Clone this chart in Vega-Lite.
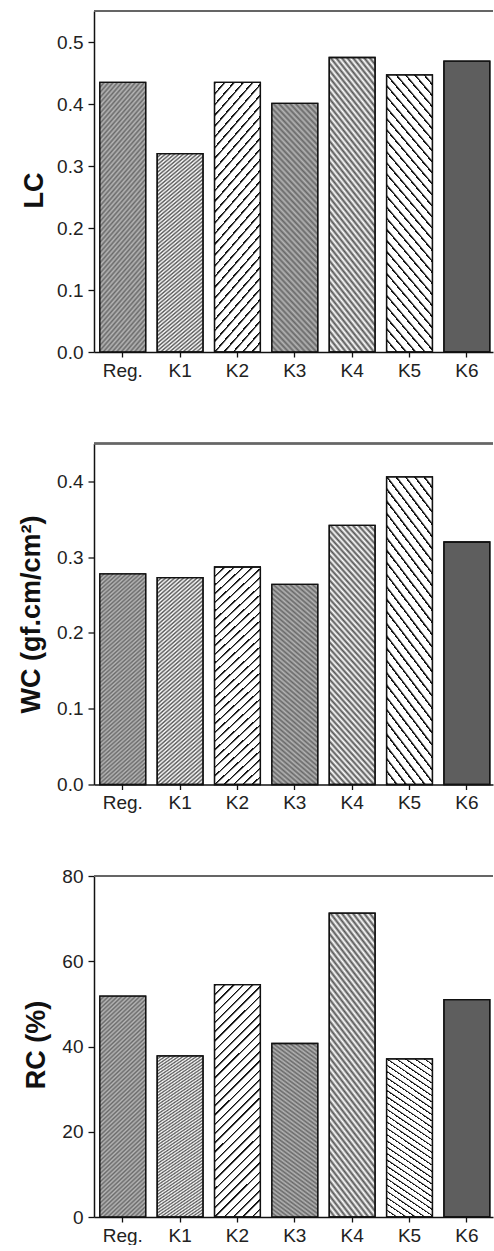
{
"$schema": "https://vega.github.io/schema/vega-lite/v6.json",
"background": "white",
"padding": {"left": 17, "top": 10, "right": 0, "bottom": 0},
"params": [
{"name":"gK1","value":{"gradient":"linear","x1":0,"y1":0,"x2":0.2259,"y2":1.1519,"stops":[
{"offset":0,"color":"#555"},{"offset":0.008,"color":"#fff"},{"offset":0.016,"color":"#555"},{"offset":0.024,"color":"#fff"},{"offset":0.032,"color":"#555"},{"offset":0.04,"color":"#fff"},{"offset":0.048,"color":"#555"},{"offset":0.056,"color":"#fff"},{"offset":0.064,"color":"#555"},{"offset":0.072,"color":"#fff"},
{"offset":0.08,"color":"#555"},{"offset":0.088,"color":"#fff"},{"offset":0.096,"color":"#555"},{"offset":0.104,"color":"#fff"},{"offset":0.112,"color":"#555"},{"offset":0.12,"color":"#fff"},{"offset":0.128,"color":"#555"},{"offset":0.136,"color":"#fff"},{"offset":0.144,"color":"#555"},{"offset":0.152,"color":"#fff"},
{"offset":0.16,"color":"#555"},{"offset":0.168,"color":"#fff"},{"offset":0.176,"color":"#555"},{"offset":0.184,"color":"#fff"},{"offset":0.192,"color":"#555"},{"offset":0.2,"color":"#fff"},{"offset":0.208,"color":"#555"},{"offset":0.216,"color":"#fff"},{"offset":0.224,"color":"#555"},{"offset":0.232,"color":"#fff"},
{"offset":0.24,"color":"#555"},{"offset":0.248,"color":"#fff"},{"offset":0.256,"color":"#555"},{"offset":0.264,"color":"#fff"},{"offset":0.272,"color":"#555"},{"offset":0.28,"color":"#fff"},{"offset":0.288,"color":"#555"},{"offset":0.296,"color":"#fff"},{"offset":0.304,"color":"#555"},{"offset":0.312,"color":"#fff"},
{"offset":0.32,"color":"#555"},{"offset":0.328,"color":"#fff"},{"offset":0.336,"color":"#555"},{"offset":0.344,"color":"#fff"},{"offset":0.352,"color":"#555"},{"offset":0.36,"color":"#fff"},{"offset":0.368,"color":"#555"},{"offset":0.376,"color":"#fff"},{"offset":0.384,"color":"#555"},{"offset":0.392,"color":"#fff"},
{"offset":0.4,"color":"#555"},{"offset":0.408,"color":"#fff"},{"offset":0.416,"color":"#555"},{"offset":0.424,"color":"#fff"},{"offset":0.432,"color":"#555"},{"offset":0.44,"color":"#fff"},{"offset":0.448,"color":"#555"},{"offset":0.456,"color":"#fff"},{"offset":0.464,"color":"#555"},{"offset":0.472,"color":"#fff"},
{"offset":0.48,"color":"#555"},{"offset":0.488,"color":"#fff"},{"offset":0.496,"color":"#555"},{"offset":0.504,"color":"#fff"},{"offset":0.512,"color":"#555"},{"offset":0.52,"color":"#fff"},{"offset":0.528,"color":"#555"},{"offset":0.536,"color":"#fff"},{"offset":0.544,"color":"#555"},{"offset":0.552,"color":"#fff"},
{"offset":0.56,"color":"#555"},{"offset":0.568,"color":"#fff"},{"offset":0.576,"color":"#555"},{"offset":0.584,"color":"#fff"},{"offset":0.592,"color":"#555"},{"offset":0.6,"color":"#fff"},{"offset":0.608,"color":"#555"},{"offset":0.616,"color":"#fff"},{"offset":0.624,"color":"#555"},{"offset":0.632,"color":"#fff"},
{"offset":0.64,"color":"#555"},{"offset":0.648,"color":"#fff"},{"offset":0.656,"color":"#555"},{"offset":0.664,"color":"#fff"},{"offset":0.672,"color":"#555"},{"offset":0.68,"color":"#fff"},{"offset":0.688,"color":"#555"},{"offset":0.696,"color":"#fff"},{"offset":0.704,"color":"#555"},{"offset":0.712,"color":"#fff"},
{"offset":0.72,"color":"#555"},{"offset":0.728,"color":"#fff"},{"offset":0.736,"color":"#555"},{"offset":0.744,"color":"#fff"},{"offset":0.752,"color":"#555"},{"offset":0.76,"color":"#fff"},{"offset":0.768,"color":"#555"},{"offset":0.776,"color":"#fff"},{"offset":0.784,"color":"#555"},{"offset":0.792,"color":"#fff"},
{"offset":0.8,"color":"#555"},{"offset":0.808,"color":"#fff"},{"offset":0.816,"color":"#555"},{"offset":0.824,"color":"#fff"},{"offset":0.832,"color":"#555"},{"offset":0.84,"color":"#fff"},{"offset":0.848,"color":"#555"},{"offset":0.856,"color":"#fff"},{"offset":0.864,"color":"#555"},{"offset":0.872,"color":"#fff"},
{"offset":0.88,"color":"#555"},{"offset":0.888,"color":"#fff"},{"offset":0.896,"color":"#555"},{"offset":0.904,"color":"#fff"},{"offset":0.912,"color":"#555"},{"offset":0.92,"color":"#fff"},{"offset":0.928,"color":"#555"},{"offset":0.936,"color":"#fff"},{"offset":0.944,"color":"#555"},{"offset":0.952,"color":"#fff"},
{"offset":0.96,"color":"#555"},{"offset":0.968,"color":"#fff"},{"offset":0.976,"color":"#555"},{"offset":0.984,"color":"#fff"},{"offset":0.992,"color":"#555"},{"offset":1,"color":"#fff"}
]}},
{"name":"gK2","value":{"gradient":"linear","x1":0,"y1":0,"x2":0.2259,"y2":1.1519,"stops":[
{"offset":0,"color":"#111"},{"offset":0.004,"color":"#111"},{"offset":0.01,"color":"#fff"},{"offset":0.0333,"color":"#fff"},{"offset":0.0333,"color":"#111"},{"offset":0.0373,"color":"#111"},{"offset":0.0433,"color":"#fff"},{"offset":0.0667,"color":"#fff"},{"offset":0.0667,"color":"#111"},{"offset":0.0707,"color":"#111"},{"offset":0.0767,"color":"#fff"},{"offset":0.1,"color":"#fff"},
{"offset":0.1,"color":"#111"},{"offset":0.104,"color":"#111"},{"offset":0.11,"color":"#fff"},{"offset":0.1333,"color":"#fff"},{"offset":0.1333,"color":"#111"},{"offset":0.1373,"color":"#111"},{"offset":0.1433,"color":"#fff"},{"offset":0.1667,"color":"#fff"},{"offset":0.1667,"color":"#111"},{"offset":0.1707,"color":"#111"},{"offset":0.1767,"color":"#fff"},{"offset":0.2,"color":"#fff"},
{"offset":0.2,"color":"#111"},{"offset":0.204,"color":"#111"},{"offset":0.21,"color":"#fff"},{"offset":0.2333,"color":"#fff"},{"offset":0.2333,"color":"#111"},{"offset":0.2373,"color":"#111"},{"offset":0.2433,"color":"#fff"},{"offset":0.2667,"color":"#fff"},{"offset":0.2667,"color":"#111"},{"offset":0.2707,"color":"#111"},{"offset":0.2767,"color":"#fff"},{"offset":0.3,"color":"#fff"},
{"offset":0.3,"color":"#111"},{"offset":0.304,"color":"#111"},{"offset":0.31,"color":"#fff"},{"offset":0.3333,"color":"#fff"},{"offset":0.3333,"color":"#111"},{"offset":0.3373,"color":"#111"},{"offset":0.3433,"color":"#fff"},{"offset":0.3667,"color":"#fff"},{"offset":0.3667,"color":"#111"},{"offset":0.3707,"color":"#111"},{"offset":0.3767,"color":"#fff"},{"offset":0.4,"color":"#fff"},
{"offset":0.4,"color":"#111"},{"offset":0.404,"color":"#111"},{"offset":0.41,"color":"#fff"},{"offset":0.4333,"color":"#fff"},{"offset":0.4333,"color":"#111"},{"offset":0.4373,"color":"#111"},{"offset":0.4433,"color":"#fff"},{"offset":0.4667,"color":"#fff"},{"offset":0.4667,"color":"#111"},{"offset":0.4707,"color":"#111"},{"offset":0.4767,"color":"#fff"},{"offset":0.5,"color":"#fff"},
{"offset":0.5,"color":"#111"},{"offset":0.504,"color":"#111"},{"offset":0.51,"color":"#fff"},{"offset":0.5333,"color":"#fff"},{"offset":0.5333,"color":"#111"},{"offset":0.5373,"color":"#111"},{"offset":0.5433,"color":"#fff"},{"offset":0.5667,"color":"#fff"},{"offset":0.5667,"color":"#111"},{"offset":0.5707,"color":"#111"},{"offset":0.5767,"color":"#fff"},{"offset":0.6,"color":"#fff"},
{"offset":0.6,"color":"#111"},{"offset":0.604,"color":"#111"},{"offset":0.61,"color":"#fff"},{"offset":0.6333,"color":"#fff"},{"offset":0.6333,"color":"#111"},{"offset":0.6373,"color":"#111"},{"offset":0.6433,"color":"#fff"},{"offset":0.6667,"color":"#fff"},{"offset":0.6667,"color":"#111"},{"offset":0.6707,"color":"#111"},{"offset":0.6767,"color":"#fff"},{"offset":0.7,"color":"#fff"},
{"offset":0.7,"color":"#111"},{"offset":0.704,"color":"#111"},{"offset":0.71,"color":"#fff"},{"offset":0.7333,"color":"#fff"},{"offset":0.7333,"color":"#111"},{"offset":0.7373,"color":"#111"},{"offset":0.7433,"color":"#fff"},{"offset":0.7667,"color":"#fff"},{"offset":0.7667,"color":"#111"},{"offset":0.7707,"color":"#111"},{"offset":0.7767,"color":"#fff"},{"offset":0.8,"color":"#fff"},
{"offset":0.8,"color":"#111"},{"offset":0.804,"color":"#111"},{"offset":0.81,"color":"#fff"},{"offset":0.8333,"color":"#fff"},{"offset":0.8333,"color":"#111"},{"offset":0.8373,"color":"#111"},{"offset":0.8433,"color":"#fff"},{"offset":0.8667,"color":"#fff"},{"offset":0.8667,"color":"#111"},{"offset":0.8707,"color":"#111"},{"offset":0.8767,"color":"#fff"},{"offset":0.9,"color":"#fff"},
{"offset":0.9,"color":"#111"},{"offset":0.904,"color":"#111"},{"offset":0.91,"color":"#fff"},{"offset":0.9333,"color":"#fff"},{"offset":0.9333,"color":"#111"},{"offset":0.9373,"color":"#111"},{"offset":0.9433,"color":"#fff"},{"offset":0.9667,"color":"#fff"},{"offset":0.9667,"color":"#111"},{"offset":0.9707,"color":"#111"},{"offset":0.9767,"color":"#fff"},{"offset":1,"color":"#fff"}
]}},
{"name":"gK4","value":{"gradient":"linear","x1":0,"y1":1,"x2":0.2259,"y2":-0.1519,"stops":[
{"offset":0,"color":"#555"},{"offset":0.01,"color":"#fff"},{"offset":0.02,"color":"#555"},{"offset":0.03,"color":"#fff"},{"offset":0.04,"color":"#555"},{"offset":0.05,"color":"#fff"},{"offset":0.06,"color":"#555"},{"offset":0.07,"color":"#fff"},{"offset":0.08,"color":"#555"},{"offset":0.09,"color":"#fff"},
{"offset":0.1,"color":"#555"},{"offset":0.11,"color":"#fff"},{"offset":0.12,"color":"#555"},{"offset":0.13,"color":"#fff"},{"offset":0.14,"color":"#555"},{"offset":0.15,"color":"#fff"},{"offset":0.16,"color":"#555"},{"offset":0.17,"color":"#fff"},{"offset":0.18,"color":"#555"},{"offset":0.19,"color":"#fff"},
{"offset":0.2,"color":"#555"},{"offset":0.21,"color":"#fff"},{"offset":0.22,"color":"#555"},{"offset":0.23,"color":"#fff"},{"offset":0.24,"color":"#555"},{"offset":0.25,"color":"#fff"},{"offset":0.26,"color":"#555"},{"offset":0.27,"color":"#fff"},{"offset":0.28,"color":"#555"},{"offset":0.29,"color":"#fff"},
{"offset":0.3,"color":"#555"},{"offset":0.31,"color":"#fff"},{"offset":0.32,"color":"#555"},{"offset":0.33,"color":"#fff"},{"offset":0.34,"color":"#555"},{"offset":0.35,"color":"#fff"},{"offset":0.36,"color":"#555"},{"offset":0.37,"color":"#fff"},{"offset":0.38,"color":"#555"},{"offset":0.39,"color":"#fff"},
{"offset":0.4,"color":"#555"},{"offset":0.41,"color":"#fff"},{"offset":0.42,"color":"#555"},{"offset":0.43,"color":"#fff"},{"offset":0.44,"color":"#555"},{"offset":0.45,"color":"#fff"},{"offset":0.46,"color":"#555"},{"offset":0.47,"color":"#fff"},{"offset":0.48,"color":"#555"},{"offset":0.49,"color":"#fff"},
{"offset":0.5,"color":"#555"},{"offset":0.51,"color":"#fff"},{"offset":0.52,"color":"#555"},{"offset":0.53,"color":"#fff"},{"offset":0.54,"color":"#555"},{"offset":0.55,"color":"#fff"},{"offset":0.56,"color":"#555"},{"offset":0.57,"color":"#fff"},{"offset":0.58,"color":"#555"},{"offset":0.59,"color":"#fff"},
{"offset":0.6,"color":"#555"},{"offset":0.61,"color":"#fff"},{"offset":0.62,"color":"#555"},{"offset":0.63,"color":"#fff"},{"offset":0.64,"color":"#555"},{"offset":0.65,"color":"#fff"},{"offset":0.66,"color":"#555"},{"offset":0.67,"color":"#fff"},{"offset":0.68,"color":"#555"},{"offset":0.69,"color":"#fff"},
{"offset":0.7,"color":"#555"},{"offset":0.71,"color":"#fff"},{"offset":0.72,"color":"#555"},{"offset":0.73,"color":"#fff"},{"offset":0.74,"color":"#555"},{"offset":0.75,"color":"#fff"},{"offset":0.76,"color":"#555"},{"offset":0.77,"color":"#fff"},{"offset":0.78,"color":"#555"},{"offset":0.79,"color":"#fff"},
{"offset":0.8,"color":"#555"},{"offset":0.81,"color":"#fff"},{"offset":0.82,"color":"#555"},{"offset":0.83,"color":"#fff"},{"offset":0.84,"color":"#555"},{"offset":0.85,"color":"#fff"},{"offset":0.86,"color":"#555"},{"offset":0.87,"color":"#fff"},{"offset":0.88,"color":"#555"},{"offset":0.89,"color":"#fff"},
{"offset":0.9,"color":"#555"},{"offset":0.91,"color":"#fff"},{"offset":0.92,"color":"#555"},{"offset":0.93,"color":"#fff"},{"offset":0.94,"color":"#555"},{"offset":0.95,"color":"#fff"},{"offset":0.96,"color":"#555"},{"offset":0.97,"color":"#fff"},{"offset":0.98,"color":"#555"},{"offset":0.99,"color":"#fff"},
{"offset":1,"color":"#555"}
]}},
{"name":"gK5","value":{"gradient":"linear","x1":0,"y1":1,"x2":0.2259,"y2":-0.1519,"stops":[
{"offset":0,"color":"#111"},{"offset":0.004,"color":"#111"},{"offset":0.01,"color":"#fff"},{"offset":0.0333,"color":"#fff"},{"offset":0.0333,"color":"#111"},{"offset":0.0373,"color":"#111"},{"offset":0.0433,"color":"#fff"},{"offset":0.0667,"color":"#fff"},{"offset":0.0667,"color":"#111"},{"offset":0.0707,"color":"#111"},{"offset":0.0767,"color":"#fff"},{"offset":0.1,"color":"#fff"},
{"offset":0.1,"color":"#111"},{"offset":0.104,"color":"#111"},{"offset":0.11,"color":"#fff"},{"offset":0.1333,"color":"#fff"},{"offset":0.1333,"color":"#111"},{"offset":0.1373,"color":"#111"},{"offset":0.1433,"color":"#fff"},{"offset":0.1667,"color":"#fff"},{"offset":0.1667,"color":"#111"},{"offset":0.1707,"color":"#111"},{"offset":0.1767,"color":"#fff"},{"offset":0.2,"color":"#fff"},
{"offset":0.2,"color":"#111"},{"offset":0.204,"color":"#111"},{"offset":0.21,"color":"#fff"},{"offset":0.2333,"color":"#fff"},{"offset":0.2333,"color":"#111"},{"offset":0.2373,"color":"#111"},{"offset":0.2433,"color":"#fff"},{"offset":0.2667,"color":"#fff"},{"offset":0.2667,"color":"#111"},{"offset":0.2707,"color":"#111"},{"offset":0.2767,"color":"#fff"},{"offset":0.3,"color":"#fff"},
{"offset":0.3,"color":"#111"},{"offset":0.304,"color":"#111"},{"offset":0.31,"color":"#fff"},{"offset":0.3333,"color":"#fff"},{"offset":0.3333,"color":"#111"},{"offset":0.3373,"color":"#111"},{"offset":0.3433,"color":"#fff"},{"offset":0.3667,"color":"#fff"},{"offset":0.3667,"color":"#111"},{"offset":0.3707,"color":"#111"},{"offset":0.3767,"color":"#fff"},{"offset":0.4,"color":"#fff"},
{"offset":0.4,"color":"#111"},{"offset":0.404,"color":"#111"},{"offset":0.41,"color":"#fff"},{"offset":0.4333,"color":"#fff"},{"offset":0.4333,"color":"#111"},{"offset":0.4373,"color":"#111"},{"offset":0.4433,"color":"#fff"},{"offset":0.4667,"color":"#fff"},{"offset":0.4667,"color":"#111"},{"offset":0.4707,"color":"#111"},{"offset":0.4767,"color":"#fff"},{"offset":0.5,"color":"#fff"},
{"offset":0.5,"color":"#111"},{"offset":0.504,"color":"#111"},{"offset":0.51,"color":"#fff"},{"offset":0.5333,"color":"#fff"},{"offset":0.5333,"color":"#111"},{"offset":0.5373,"color":"#111"},{"offset":0.5433,"color":"#fff"},{"offset":0.5667,"color":"#fff"},{"offset":0.5667,"color":"#111"},{"offset":0.5707,"color":"#111"},{"offset":0.5767,"color":"#fff"},{"offset":0.6,"color":"#fff"},
{"offset":0.6,"color":"#111"},{"offset":0.604,"color":"#111"},{"offset":0.61,"color":"#fff"},{"offset":0.6333,"color":"#fff"},{"offset":0.6333,"color":"#111"},{"offset":0.6373,"color":"#111"},{"offset":0.6433,"color":"#fff"},{"offset":0.6667,"color":"#fff"},{"offset":0.6667,"color":"#111"},{"offset":0.6707,"color":"#111"},{"offset":0.6767,"color":"#fff"},{"offset":0.7,"color":"#fff"},
{"offset":0.7,"color":"#111"},{"offset":0.704,"color":"#111"},{"offset":0.71,"color":"#fff"},{"offset":0.7333,"color":"#fff"},{"offset":0.7333,"color":"#111"},{"offset":0.7373,"color":"#111"},{"offset":0.7433,"color":"#fff"},{"offset":0.7667,"color":"#fff"},{"offset":0.7667,"color":"#111"},{"offset":0.7707,"color":"#111"},{"offset":0.7767,"color":"#fff"},{"offset":0.8,"color":"#fff"},
{"offset":0.8,"color":"#111"},{"offset":0.804,"color":"#111"},{"offset":0.81,"color":"#fff"},{"offset":0.8333,"color":"#fff"},{"offset":0.8333,"color":"#111"},{"offset":0.8373,"color":"#111"},{"offset":0.8433,"color":"#fff"},{"offset":0.8667,"color":"#fff"},{"offset":0.8667,"color":"#111"},{"offset":0.8707,"color":"#111"},{"offset":0.8767,"color":"#fff"},{"offset":0.9,"color":"#fff"},
{"offset":0.9,"color":"#111"},{"offset":0.904,"color":"#111"},{"offset":0.91,"color":"#fff"},{"offset":0.9333,"color":"#fff"},{"offset":0.9333,"color":"#111"},{"offset":0.9373,"color":"#111"},{"offset":0.9433,"color":"#fff"},{"offset":0.9667,"color":"#fff"},{"offset":0.9667,"color":"#111"},{"offset":0.9707,"color":"#111"},{"offset":0.9767,"color":"#fff"},{"offset":1,"color":"#fff"}
]}}
],
"data": {"values": [
{"k":"Reg.","LC":0.435,"WC":0.278,"RC":51.8},
{"k":"K1","LC":0.320,"WC":0.273,"RC":37.8},
{"k":"K2","LC":0.435,"WC":0.287,"RC":54.5},
{"k":"K3","LC":0.401,"WC":0.264,"RC":40.7},
{"k":"K4","LC":0.475,"WC":0.342,"RC":71.3},
{"k":"K5","LC":0.447,"WC":0.406,"RC":37.1},
{"k":"K6","LC":0.469,"WC":0.320,"RC":51.0}
]},
"spacing": 91.5,
"bounds": "flush",
"vconcat": [
{
"width": 399, "height": 341,
"layer": [
{
"encoding": {
"x": {"field":"k","type":"nominal","title":null,"scale":{"domain":["Reg.","K1","K2","K3","K4","K5","K6"],"paddingInner":0.2,"paddingOuter":0.0785,"align":0.645}},
"y": {"field":"LC","type":"quantitative","title":"LC","scale":{"domain":[0,0.55],"nice":false},"axis":{"values":[0,0.1,0.2,0.3,0.4,0.5],"format":".1f","titleX":-52,"titleY":179}}
},
"layer": [
{"mark": {"type":"bar","fill":{"expr":"datum.k=='K1' ? gK1 : datum.k=='K2' ? gK2 : datum.k=='K4' ? gK4 : datum.k=='K5' ? gK5 : datum.k=='K3' ? '#777' : datum.k=='K6' ? '#5e5e5e' : '#7b7b7b'"}}},
{"mark": {"type":"bar","fill":{"expr":"datum.k=='K3' ? gK4 : gK1"},"fillOpacity":{"expr":"(datum.k=='Reg.' || datum.k=='K3') ? 0.45 : 0"}}}
]
},
{"mark":{"type":"rule","color":"#666","strokeWidth":1.5},"encoding":{"y":{"datum":0.55,"type":"quantitative"}}}
]
},
{
"width": 399, "height": 341,
"layer": [
{
"encoding": {
"x": {"field":"k","type":"nominal","title":null,"scale":{"domain":["Reg.","K1","K2","K3","K4","K5","K6"],"paddingInner":0.2,"paddingOuter":0.0785,"align":0.645}},
"y": {"field":"WC","type":"quantitative","title":"WC (gf.cm/cm²)","scale":{"domain":[0,0.45],"nice":false},"axis":{"values":[0,0.1,0.2,0.3,0.4],"format":".1f","titleX":-55,"titleY":170.5}}
},
"layer": [
{"mark": {"type":"bar","fill":{"expr":"datum.k=='K1' ? gK1 : datum.k=='K2' ? gK2 : datum.k=='K4' ? gK4 : datum.k=='K5' ? gK5 : datum.k=='K3' ? '#777' : datum.k=='K6' ? '#5e5e5e' : '#7b7b7b'"}}},
{"mark": {"type":"bar","fill":{"expr":"datum.k=='K3' ? gK4 : gK1"},"fillOpacity":{"expr":"(datum.k=='Reg.' || datum.k=='K3') ? 0.45 : 0"}}}
]
},
{"mark":{"type":"rule","color":"#666","strokeWidth":1.5},"encoding":{"y":{"datum":0.45,"type":"quantitative"}}}
]
},
{
"width": 399, "height": 341,
"layer": [
{
"encoding": {
"x": {"field":"k","type":"nominal","title":null,"scale":{"domain":["Reg.","K1","K2","K3","K4","K5","K6"],"paddingInner":0.2,"paddingOuter":0.0785,"align":0.645}},
"y": {"field":"RC","type":"quantitative","title":"RC (%)","scale":{"domain":[0,80],"nice":false},"axis":{"values":[0,20,40,60,80],"format":"d","titleX":-50,"titleY":168.5}}
},
"layer": [
{"mark": {"type":"bar","fill":{"expr":"datum.k=='K1' ? gK1 : datum.k=='K2' ? gK2 : datum.k=='K4' ? gK4 : datum.k=='K5' ? gK5 : datum.k=='K3' ? '#777' : datum.k=='K6' ? '#5e5e5e' : '#7b7b7b'"}}},
{"mark": {"type":"bar","fill":{"expr":"datum.k=='K3' ? gK4 : gK1"},"fillOpacity":{"expr":"(datum.k=='Reg.' || datum.k=='K3') ? 0.45 : 0"}}}
]
},
{"mark":{"type":"rule","color":"#666","strokeWidth":1.5},"encoding":{"y":{"datum":80,"type":"quantitative"}}}
]
}
],
"config": {
"view": {"stroke": null},
"font": "Liberation Sans",
"bar": {"stroke": "#111", "strokeWidth": 1.3},
"axis": {"labelFont":"Liberation Sans","labelFontSize":19,"labelColor":"#222","titleFont":"Liberation Sans","titleFontSize":27,"titleFontWeight":"bold","titleColor":"#111","domainColor":"#111","domainWidth":1.5,"tickColor":"#111","tickWidth":1.3,"grid":false},
"axisX": {"tickSize":5,"labelPadding":4,"labelAngle":0},
"axisY": {"tickSize":6,"labelPadding":5,"titleAngle":270,"titleAlign":"center","titleBaseline":"alphabetic"}
}
}
